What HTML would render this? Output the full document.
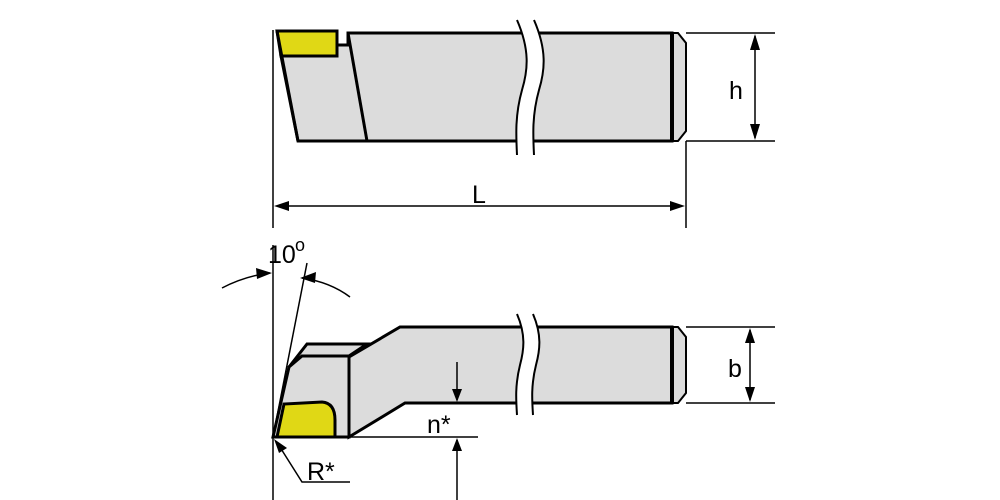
<!DOCTYPE html>
<html><head><style>body{margin:0;background:#fff}svg{display:block}text{font-family:"Liberation Sans",sans-serif;fill:#000}</style></head>
<body>
<svg width="1000" height="500" viewBox="0 0 1000 500">
<!-- TOP VIEW -->
<g stroke="#000" stroke-linejoin="miter">
<polygon points="281,56 337,56 337,45 348,45 348,33 672,33 672,141 298,141" fill="#dcdcdc" stroke-width="3"/>
<line x1="348" y1="33" x2="367" y2="141" stroke-width="3"/>
<polygon points="672,33 678,33 686,43 686,131 678,141 672,141" fill="#dcdcdc" stroke-width="2"/>
<line x1="672" y1="33" x2="672" y2="141" stroke-width="4"/>
<polygon points="277,31 337,31 337,56 281,56" fill="#e0d815" stroke-width="3"/>
<line x1="277" y1="31" x2="298" y2="141" stroke-width="3"/>
<path d="M517,20 C530,50 528,70 522,90 C515,115 516,135 517,155 L534,155 C533,135 532,115 539,90 C545,70 547,50 534,20 Z" fill="#fff" stroke="none"/>
<path d="M517,20 C530,50 528,70 522,90 C515,115 516,135 517,155" fill="none" stroke-width="2"/>
<path d="M534,20 C547,50 545,70 539,90 C532,115 533,135 534,155" fill="none" stroke-width="2"/>
<g stroke-width="1.5" fill="none">
<line x1="686" y1="33" x2="775" y2="33"/><line x1="686" y1="141" x2="775" y2="141"/>
<line x1="755" y1="36" x2="755" y2="138"/>
<line x1="273" y1="30" x2="273" y2="228"/><line x1="686" y1="141" x2="686" y2="228"/>
<line x1="280" y1="206" x2="679" y2="206"/>
</g>
</g>
<g fill="#000"><path d="M755,34 L750,50 L760,50z"/><path d="M755,140 L750,124 L760,124z"/>
<path d="M274,206 L289,201 L289,211z"/><path d="M685,206 L670,201 L670,211z"/></g>
<text x="729" y="99" font-size="25">h</text>
<text x="472" y="203" font-size="25">L</text>
<!-- BOTTOM VIEW -->
<g stroke="#000" stroke-linejoin="miter">
<polygon points="349,357 400,327 672,327 672,403 405,403 349,437" fill="#dcdcdc" stroke-width="3"/>
<polygon points="289,367 307,344 367,344 349,356 302,356" fill="#dcdcdc" stroke-width="3"/>
<polygon points="273,437 289,367 302,356 349,356 349,437" fill="#dcdcdc" stroke-width="3"/>
<path d="M277,437 L284,404 L322,402 Q335,403 335,420 L335,437 Z" fill="#e0d815" stroke-width="3"/>
<polygon points="672,327 678,327 686,337 686,393 678,403 672,403" fill="#dcdcdc" stroke-width="2"/>
<line x1="672" y1="327" x2="672" y2="403" stroke-width="4"/>
<path d="M517,314 C526,335 524,350 520,365 C515,385 516,400 517,415 L533,415 C532,400 531,385 536,365 C540,350 542,335 533,314 Z" fill="#fff" stroke="none"/>
<path d="M517,314 C526,335 524,350 520,365 C515,385 516,400 517,415" fill="none" stroke-width="2"/>
<path d="M533,314 C542,335 540,350 536,365 C531,385 532,400 533,415" fill="none" stroke-width="2"/>
<g stroke-width="1.5" fill="none">
<line x1="273" y1="245" x2="273" y2="500"/>
<line x1="307" y1="263" x2="273" y2="437"/>
<line x1="349" y1="437" x2="478" y2="437"/>
<line x1="457" y1="362" x2="457" y2="400"/><line x1="457" y1="440" x2="457" y2="500"/>
<line x1="686" y1="327" x2="775" y2="327"/><line x1="686" y1="403" x2="775" y2="403"/>
<line x1="750" y1="330" x2="750" y2="400"/>
<path d="M222,288 Q245,276 270,273"/>
<path d="M302,278 Q330,282 350,297"/>
<polyline points="278,444 302,482 350,482"/>
</g>
</g>
<g fill="#000">
<path d="M457,402 L452,389 L462,389z"/><path d="M457,438 L452,451 L462,451z"/>
<path d="M750,328 L745,343 L755,343z"/><path d="M750,402 L745,387 L755,387z"/>
<path d="M272,273 L256,268 L257,279z"/><path d="M300,278 L316,272 L315,283z"/>
<path d="M274,439 L287,448 L279,453z"/>
</g>
<text x="268" y="263" font-size="25">10</text>
<text x="295" y="251" font-size="18">o</text>
<text x="728" y="377" font-size="25">b</text>
<text x="427" y="433" font-size="25">n*</text>
<text x="307" y="480" font-size="25">R*</text>
</svg>
</body></html>
